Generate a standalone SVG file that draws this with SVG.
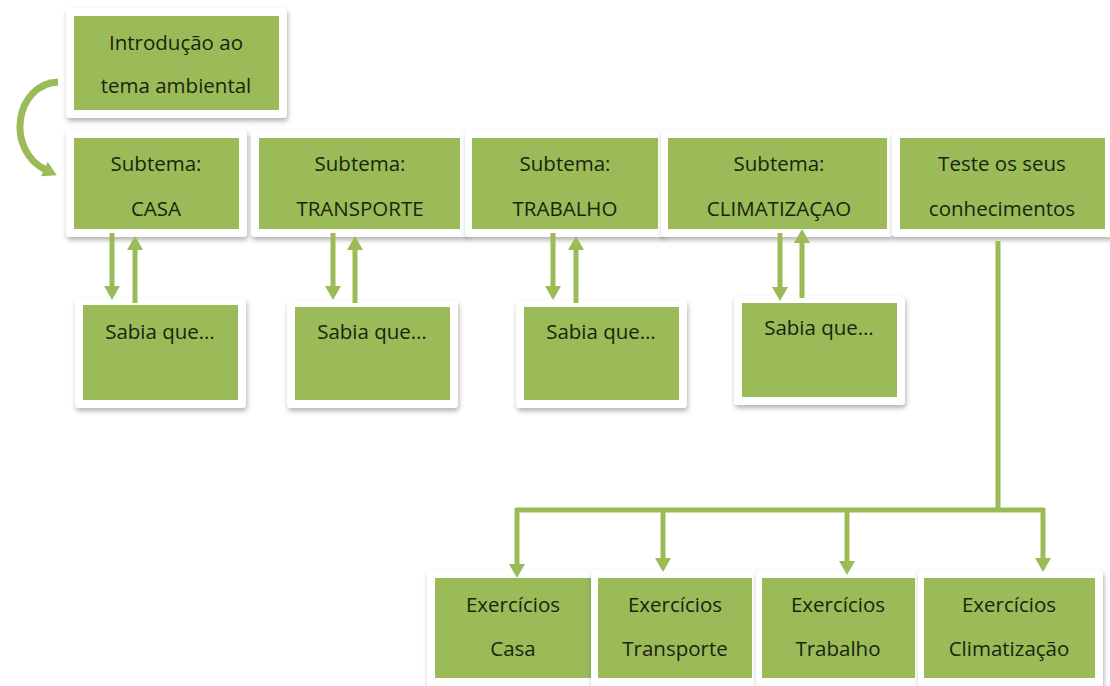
<svg xmlns="http://www.w3.org/2000/svg" width="1110" height="686" viewBox="0 0 1110 686">
<defs>
<filter id="sh" x="-10%" y="-10%" width="125%" height="130%">
<feDropShadow dx="1" dy="3" stdDeviation="2.5" flood-color="#000" flood-opacity="0.3"/>
</filter>
<marker id="ah" markerUnits="userSpaceOnUse" markerWidth="16" markerHeight="16" refX="2" refY="8" orient="auto">
<path d="M0,0 L14,8 L0,16 z" fill="#9bbb59"/>
</marker>
</defs>
<style>
.fr{fill:#fff;filter:url(#sh);}
.gr{fill:#9bbb59;}
.t{font-family:"Open Sans","Liberation Sans",sans-serif;font-size:20.5px;fill:#18260e;text-anchor:middle;}
.c{stroke:#9bbb59;stroke-width:5;fill:none;}
</style>
<rect width="1110" height="686" fill="#fff"/>
<g id="intro">
<rect class="fr" x="66" y="8" width="221" height="110" rx="4"/>
<rect class="gr" x="74" y="16" width="205" height="94"/>
<text class="t" x="176" y="50">Introdução ao</text>
<text class="t" x="176" y="93">tema ambiental</text>
</g>
<g id="casa">
<rect class="fr" x="66" y="130" width="181" height="107" rx="4"/>
<rect class="gr" x="74" y="138" width="165" height="91"/>
<text class="t" x="156" y="171">Subtema:</text>
<text class="t" x="156" y="216">CASA</text>
</g>
<g id="transporte">
<rect class="fr" x="251" y="130" width="217" height="107" rx="4"/>
<rect class="gr" x="259" y="138" width="201" height="91"/>
<text class="t" x="360" y="171">Subtema:</text>
<text class="t" x="360" y="216">TRANSPORTE</text>
</g>
<g id="trabalho">
<rect class="fr" x="465" y="130" width="200" height="107" rx="4"/>
<rect class="gr" x="472" y="138" width="186" height="91"/>
<text class="t" x="565" y="171">Subtema:</text>
<text class="t" x="565" y="216">TRABALHO</text>
</g>
<g id="climatizacao">
<rect class="fr" x="661" y="130" width="232" height="107" rx="4"/>
<rect class="gr" x="668" y="138" width="219" height="91"/>
<text class="t" x="779" y="171">Subtema:</text>
<text class="t" x="779" y="216">CLIMATIZAÇAO</text>
</g>
<g id="teste">
<rect class="fr" x="892" y="131" width="222" height="106" rx="4"/>
<rect class="gr" x="900" y="138" width="205" height="91"/>
<text class="t" x="1002" y="171">Teste os seus</text>
<text class="t" x="1002" y="216">conhecimentos</text>
</g>
<g id="sabia1">
<rect class="fr" x="75" y="298" width="171" height="110" rx="4"/>
<rect class="gr" x="83" y="305" width="155" height="95"/>
<text class="t" x="160" y="339">Sabia que…</text>
</g>
<g id="sabia2">
<rect class="fr" x="287" y="300" width="171" height="108" rx="4"/>
<rect class="gr" x="295" y="307" width="155" height="93"/>
<text class="t" x="372" y="339">Sabia que…</text>
</g>
<g id="sabia3">
<rect class="fr" x="516" y="300" width="171" height="108" rx="4"/>
<rect class="gr" x="524" y="307" width="155" height="93"/>
<text class="t" x="601" y="339">Sabia que…</text>
</g>
<g id="sabia4">
<rect class="fr" x="734" y="296" width="171" height="109" rx="4"/>
<rect class="gr" x="742" y="303" width="155" height="94"/>
<text class="t" x="819" y="335">Sabia que…</text>
</g>
<g id="exCasa">
<rect class="fr" x="427" y="570" width="171" height="120" rx="4"/>
<rect class="gr" x="435" y="578" width="156" height="100"/>
<text class="t" x="513" y="612">Exercícios</text>
<text class="t" x="513" y="656">Casa</text>
</g>
<g id="exTransporte">
<rect class="fr" x="591" y="570" width="169" height="120" rx="4"/>
<rect class="gr" x="598" y="578" width="154" height="100"/>
<text class="t" x="675" y="612">Exercícios</text>
<text class="t" x="675" y="656">Transporte</text>
</g>
<g id="exTrabalho">
<rect class="fr" x="756" y="570" width="166" height="120" rx="4"/>
<rect class="gr" x="762" y="578" width="153" height="100"/>
<text class="t" x="838" y="612">Exercícios</text>
<text class="t" x="838" y="656">Trabalho</text>
</g>
<g id="exClimatizacao">
<rect class="fr" x="918" y="570" width="185" height="120" rx="4"/>
<rect class="gr" x="924" y="578" width="171" height="100"/>
<text class="t" x="1009" y="612">Exercícios</text>
<text class="t" x="1009" y="656">Climatização</text>
</g>
<g id="connectors">
<path class="c" style="stroke-width:7" d="M58,82 C15,84 5,150 46,170" marker-end="url(#ah)"/>
<line class="c" x1="112" y1="233" x2="112" y2="288" marker-end="url(#ah)"/>
<line class="c" x1="135" y1="303" x2="135" y2="248" marker-end="url(#ah)"/>
<line class="c" x1="333" y1="233" x2="333" y2="288" marker-end="url(#ah)"/>
<line class="c" x1="355" y1="303" x2="355" y2="248" marker-end="url(#ah)"/>
<line class="c" x1="553" y1="233" x2="553" y2="288" marker-end="url(#ah)"/>
<line class="c" x1="576" y1="303" x2="576" y2="248" marker-end="url(#ah)"/>
<line class="c" x1="780" y1="233" x2="780" y2="289" marker-end="url(#ah)"/>
<line class="c" x1="802" y1="298" x2="802" y2="241" marker-end="url(#ah)"/>
<line class="c" x1="998" y1="241" x2="998" y2="512"/>
<line class="c" x1="515" y1="510" x2="1045" y2="510"/>
<line class="c" x1="517" y1="508" x2="517" y2="566" marker-end="url(#ah)"/>
<line class="c" x1="663" y1="508" x2="663" y2="560" marker-end="url(#ah)"/>
<line class="c" x1="847" y1="508" x2="847" y2="563" marker-end="url(#ah)"/>
<line class="c" x1="1043" y1="508" x2="1043" y2="560" marker-end="url(#ah)"/>
</g>
</svg>
